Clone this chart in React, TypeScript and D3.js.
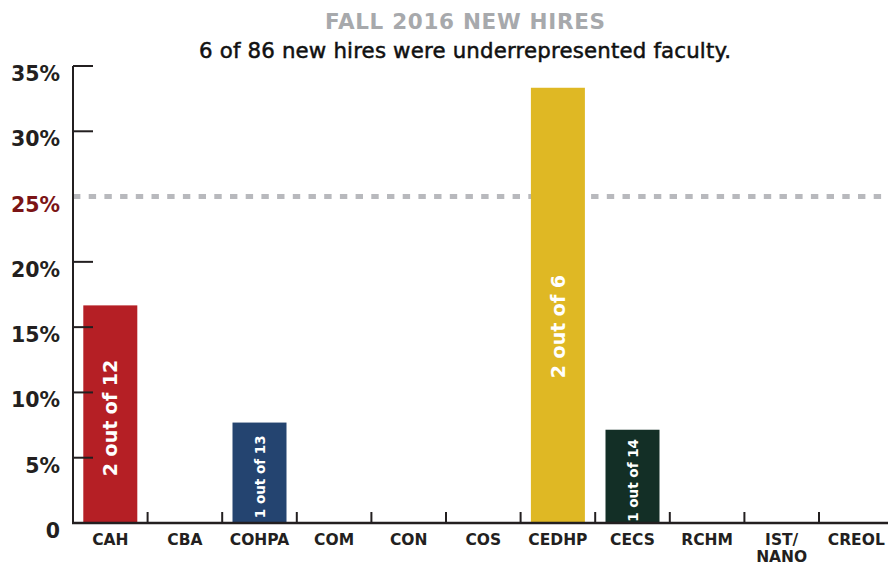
import React from "react";
import * as d3 from "d3";

const title = "FALL 2016 NEW HIRES";
const subtitle = "6 of 86 new hires were underrepresented faculty.";
const categories = ["CAH", "CBA", "COHPA", "COM", "CON", "COS", "CEDHP", "CECS", "RCHM", "IST/NANO", "CREOL"];
const urmHires = [2, 0, 1, 0, 0, 0, 2, 1, 0, 0, 0];
const totalHires: (number | null)[] = [12, null, 13, null, null, null, 6, 14, null, null, null];
const barColors = ["#B51F25", "#7B1416", "#244470", "#7B1416", "#7B1416", "#3A3D2E", "#DFB824", "#132F26", "#7B1416", "#244470", "#132F26"];
const yTicks = [0, 5, 10, 15, 20, 25, 30, 35];
const targetPct = 25;

const W = 888;
const H = 567;
const FONT = "'DejaVu Sans', sans-serif";

export default function App() {
  const x0 = 73;
  const yBase = 523;
  const y = d3.scaleLinear().domain([0, 35]).range([yBase, 66]);
  const x = d3.scaleBand<string>().domain(categories).range([x0, x0 + 74.6 * categories.length]).padding(0);
  const step = x.step();
  const barW = 54;
  const values = urmHires.map((h, i) => (totalHires[i] ? (h / (totalHires[i] as number)) * 100 : 0));

  return (
    <svg width={W} height={H} style={{ position: "absolute", left: 0, top: 0, background: "#fff" }} fontFamily={FONT}>
      <text x={465} y={29} textAnchor="middle" fontSize={21.5} fontWeight="bold" fill="#A7A9AC" textLength={280} lengthAdjust="spacing">
        {title}
      </text>
      <text x={465} y={58} textAnchor="middle" fontSize={21.3} fill="#111" textLength={532} lengthAdjust="spacing" stroke="#111" strokeWidth={0.5}>
        {subtitle}
      </text>

      {/* target dashed line */}
      <line x1={x0} x2={W} y1={y(targetPct)} y2={y(targetPct)} stroke="#B8B9BD" strokeWidth={5} strokeDasharray="7.4 8.3" />

      {/* bars */}
      {categories.map((c, i) => {
        const v = values[i];
        if (v <= 0) return null;
        const bx = (x(c) as number) + (step - barW) / 2;
        const top = y(v);
        const h = yBase - top;
        const big = h > 150;
        const cx = (x(c) as number) + step / 2;
        const cy = top + h / 2 + (big ? 4 + (h - 220) * 0.08 : 4);
        return (
          <g key={c}>
            <rect x={bx} y={top} width={barW} height={h} fill={barColors[i]} />
            <text
              transform={`translate(${cx},${cy}) rotate(-90)`}
              textAnchor="middle"
              dominantBaseline="central"
              fill="#fff"
              fontWeight="bold"
              fontSize={big ? 19 : 13.5}
            >
              {`${urmHires[i]} out of ${totalHires[i]}`}
            </text>
          </g>
        );
      })}

      {/* y axis */}
      <line x1={x0} x2={x0} y1={y(35)} y2={yBase} stroke="#231F20" strokeWidth={2} />
      {yTicks.map((t) => (
        <g key={t}>
          {t !== 0 && t !== targetPct && (
            <line x1={x0} x2={x0 + 20} y1={y(t)} y2={y(t)} stroke="#231F20" strokeWidth={2} />
          )}
          <text x={60} y={y(t) + 15} textAnchor="end" fontSize={20.5} fontWeight="bold" fill={t === targetPct ? "#7B1416" : "#231F20"}>
            {t === 0 ? "0" : `${t}%`}
          </text>
        </g>
      ))}

      {/* x axis */}
      <line x1={x0 - 1} x2={W} y1={yBase} y2={yBase} stroke="#231F20" strokeWidth={2.5} />
      {categories.slice(1).map((c) => (
        <line key={c} x1={x(c) as number} x2={x(c) as number} y1={yBase} y2={yBase - 11} stroke="#231F20" strokeWidth={2} />
      ))}
      {categories.map((c) => {
        const cx = (x(c) as number) + step / 2;
        const parts = c.includes("/") ? [c.split("/")[0] + "/", c.split("/")[1]] : [c];
        return (
          <text key={c} x={cx} y={545} textAnchor="middle" fontSize={15.5} fontWeight="bold" fill="#231F20">
            {parts.map((p, k) => (
              <tspan key={k} x={cx} dy={k === 0 ? 0 : 17}>
                {p}
              </tspan>
            ))}
          </text>
        );
      })}
    </svg>
  );
}
